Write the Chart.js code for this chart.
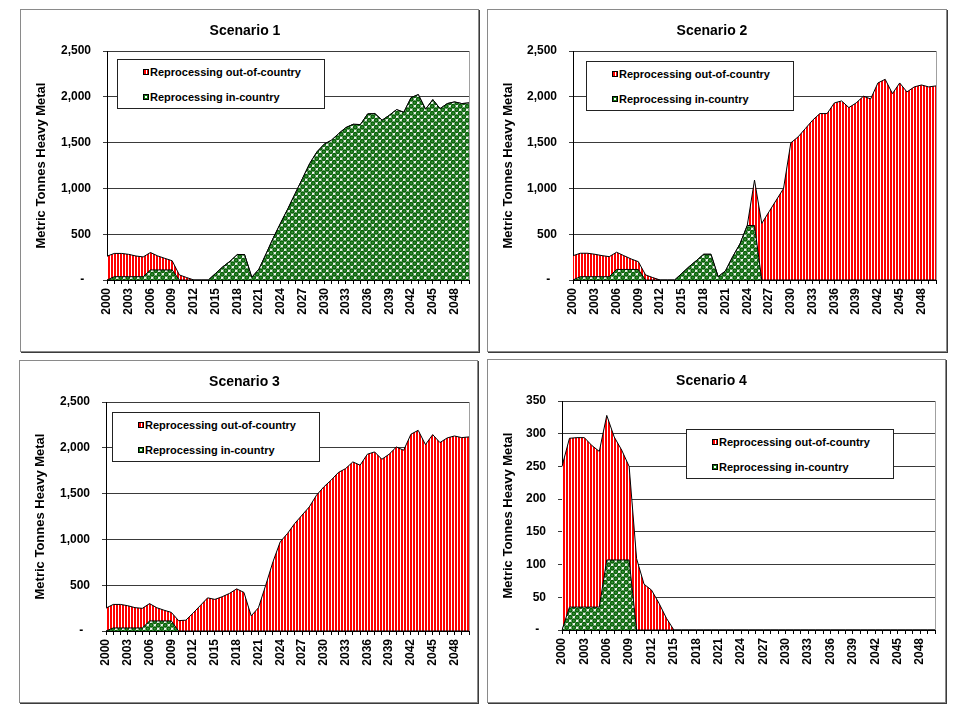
<!DOCTYPE html>
<html>
<head>
<meta charset="utf-8">
<script src="https://cdn.jsdelivr.net/npm/chart.js@4.4.1/dist/chart.umd.min.js"></script>
<style>
  body { margin: 0; background: #fff; width: 975px; height: 717px; position: relative; overflow: hidden;
         font-family: Arial, "Liberation Sans", sans-serif; }
  .panel { position: absolute; box-sizing: border-box; border: 1px solid #8a8a8a; box-shadow: 1px 1px 0 #3c3c3c; background: #fff; }
  .panel canvas { position: absolute; left: 0; top: 0; }
  .legend { position: absolute; width: 208px; height: 50px; box-sizing: border-box; border: 1px solid #222;
            background: #fff; font-weight: bold; font-size: 11px; color: #000; }
  .legend .row { position: absolute; height: 14px; line-height: 14px; white-space: nowrap; }
  .sw { display: inline-block; width: 4px; height: 4px; border: 1px solid #000; vertical-align: 1px; margin-right: 1px; }
  .sw.out { background: repeating-linear-gradient(90deg, #f00 0 2px, #fff 2px 3px); }
  .sw.in { background: radial-gradient(circle, #fff 0 1px, #127812 1.5px); }
</style>
</head>
<body>
<div class="panel" id="p1" style="left:20px;top:9px;width:459px;height:343px"><canvas id="c1" width="457" height="341"></canvas></div>
<div class="panel" id="p2" style="left:487px;top:9px;width:460px;height:343px"><canvas id="c2" width="458" height="341"></canvas></div>
<div class="panel" id="p3" style="left:19px;top:360px;width:459px;height:343px"><canvas id="c3" width="457" height="341"></canvas></div>
<div class="panel" id="p4" style="left:487px;top:359px;width:459px;height:344px"><canvas id="c4" width="457" height="342"></canvas></div>
<script>
// categories
const years = [2000, 2001, 2002, 2003, 2004, 2005, 2006, 2007, 2008, 2009,
  2010, 2011, 2012, 2013, 2014, 2015, 2016, 2017, 2018, 2019,
  2020, 2021, 2022, 2023, 2024, 2025, 2026, 2027, 2028, 2029,
  2030, 2031, 2032, 2033, 2034, 2035, 2036, 2037, 2038, 2039,
  2040, 2041, 2042, 2043, 2044, 2045, 2046, 2047, 2048, 2049, 2050];
// only every third year gets a label
const shownYears = [2000, 2003, 2006, 2009, 2012, 2015, 2018, 2021, 2024, 2027,
  2030, 2033, 2036, 2039, 2042, 2045, 2048];

const seriesNames = ["Reprocessing out-of-country", "Reprocessing in-country"];
const axisTitle = "Metric Tonnes Heavy Metal";

// Scenario 1
const s1In = [0, 36, 36, 36, 36, 36, 110, 110, 110, 110,
  0, 0, 0, 0, 0, 72, 144, 205, 278, 278,
  29, 120, 290, 465, 625, 781, 945, 1108, 1272, 1399,
  1483, 1526, 1599, 1664, 1700, 1697, 1813, 1817, 1744, 1799,
  1860, 1831, 1991, 2024, 1864, 1969, 1871, 1926, 1944, 1926, 1933];
const s1Out = [260, 254, 254, 244, 226, 216, 190, 153, 126, 100,
  55, 27, 0, 0, 0, 0, 0, 0, 0, 0,
  0, 0, 0, 0, 0, 0, 0, 0, 0, 0,
  0, 0, 0, 0, 0, 0, 0, 0, 0, 0,
  0, 0, 0, 0, 0, 0, 0, 0, 0, 0, 0];

// Scenario 2
const s2In = [0, 36, 36, 36, 36, 36, 115, 115, 115, 115,
  0, 0, 0, 0, 0, 73, 146, 212, 281, 281,
  36, 99, 255, 394, 595, 595, 0, 0, 0, 0,
  0, 0, 0, 0, 0, 0, 0, 0, 0, 0,
  0, 0, 0, 0, 0, 0, 0, 0, 0, 0, 0];
const s2Out = [265, 256, 256, 245, 230, 219, 188, 151, 115, 85,
  55, 26, 0, 0, 0, 0, 0, 0, 0, 0,
  0, 0, 0, 0, 0, 495, 618, 745, 872, 999,
  1497, 1562, 1653, 1744, 1817, 1817, 1933, 1955, 1882, 1933,
  2006, 1977, 2151, 2191, 2035, 2151, 2053, 2108, 2129, 2108, 2119];

// Scenario 3
const s3In = [0, 33, 33, 33, 33, 33, 110, 110, 110, 110,
  0, 0, 0, 0, 0, 0, 0, 0, 0, 0,
  0, 0, 0, 0, 0, 0, 0, 0, 0, 0,
  0, 0, 0, 0, 0, 0, 0, 0, 0, 0,
  0, 0, 0, 0, 0, 0, 0, 0, 0, 0, 0];
const s3Out = [250, 257, 257, 243, 222, 214, 189, 144, 117, 93,
  113, 118, 196, 279, 362, 345, 374, 410, 460, 421,
  165, 254, 500, 756, 974, 1065, 1174, 1265, 1355, 1483,
  1573, 1646, 1730, 1773, 1846, 1810, 1930, 1955, 1875, 1930,
  2009, 1973, 2148, 2191, 2035, 2144, 2057, 2108, 2129, 2111, 2119];

// Scenario 4
const s4In = [0, 35, 35, 35, 35, 35, 107, 107, 107, 107,
  0, 0, 0, 0, 0, 0, 0, 0, 0, 0,
  0, 0, 0, 0, 0, 0, 0, 0, 0, 0,
  0, 0, 0, 0, 0, 0, 0, 0, 0, 0,
  0, 0, 0, 0, 0, 0, 0, 0, 0, 0, 0];
const s4Out = [250, 258, 259, 259, 247, 238, 221, 188, 168, 143,
  109, 70, 61, 41, 18, 0, 0, 0, 0, 0,
  0, 0, 0, 0, 0, 0, 0, 0, 0, 0,
  0, 0, 0, 0, 0, 0, 0, 0, 0, 0,
  0, 0, 0, 0, 0, 0, 0, 0, 0, 0, 0];

Chart.defaults.font.family = 'Arial, "Liberation Sans", sans-serif';
Chart.defaults.color = "#000";

// red with white vertical stripes
function stripePattern() {
  const c = document.createElement("canvas");
  c.width = 3; c.height = 4;
  const g = c.getContext("2d");
  g.fillStyle = "#fff"; g.fillRect(0, 0, 3, 4);
  g.fillStyle = "#ff0000"; g.fillRect(0, 0, 2, 4);
  return g.createPattern(c, "repeat");
}

// green "bubbles" fill
function bubblePattern() {
  const c = document.createElement("canvas");
  c.width = 7; c.height = 7;
  const g = c.getContext("2d");
  g.fillStyle = "#fff"; g.fillRect(0, 0, 7, 7);
  const centers = [[1.75, 1.75], [5.25, 5.25]];
  for (const [cx, cy] of centers) {
    for (const dx of [-7, 0, 7]) {
      for (const dy of [-7, 0, 7]) {
        g.beginPath(); g.arc(cx + dx, cy + dy, 2.4, 0, Math.PI * 2);
        g.fillStyle = "#065e06"; g.fill();
        g.beginPath(); g.arc(cx + dx, cy + dy, 1.1, 0, Math.PI * 2);
        g.fillStyle = "#3a963a"; g.fill();
      }
    }
  }
  return g.createPattern(c, "repeat");
}

const redFill = stripePattern();
const greenFill = bubblePattern();

// gray frame on the right side of the plot area
const plotFrame = {
  id: "plotFrame",
  afterDatasetsDraw(chart) {
    const a = chart.chartArea, ctx = chart.ctx;
    ctx.save();
    ctx.strokeStyle = "#a0a0a0";
    ctx.lineWidth = 1;
    ctx.beginPath();
    ctx.moveTo(Math.round(a.right) + 0.5, a.top);
    ctx.lineTo(Math.round(a.right) + 0.5, a.bottom);
    ctx.stroke();
    ctx.restore();
  }
};

function makeChart(canvasId, title, inData, outData, lay) {
  return new Chart(document.getElementById(canvasId), {
    type: "line",
    data: {
      labels: years,
      datasets: [
        { label: seriesNames[1], data: inData, backgroundColor: greenFill, borderColor: "#000",
          borderWidth: 1, fill: "origin", pointRadius: 0, tension: 0 },
        { label: seriesNames[0], data: outData, backgroundColor: redFill, borderColor: "#000",
          borderWidth: 1, fill: "-1", pointRadius: 0, tension: 0 }
      ]
    },
    options: {
      responsive: false,
      animation: false,
      layout: { padding: { left: 0, right: lay.right, top: 0, bottom: 0 } },
      plugins: {
        legend: { display: false },
        tooltip: { enabled: false },
        title: { display: true, text: title, color: "#000",
          font: { size: 14, weight: "bold" }, padding: { top: 13, bottom: 11.2 } }
      },
      scales: {
        x: {
          type: "category",
          offset: false,
          grid: { drawOnChartArea: false, drawTicks: true, tickLength: 4, color: "#000" },
          border: { color: "#000" },
          ticks: {
            autoSkip: false, minRotation: 90, maxRotation: 90, padding: 4,
            font: { size: 12, weight: "bold" }, color: "#000",
            callback: (v, i) => shownYears.includes(years[i]) ? String(years[i]) : ""
          },
          afterFit: (s) => { s.height = lay.bottom; s.paddingLeft = 0; s.paddingRight = 0; }
        },
        y: {
          stacked: true,
          min: 0, max: lay.max,
          ticks: { stepSize: lay.step, padding: 12, color: "#000", font: { size: 12, weight: "bold" },
            callback: (v) => v === 0 ? "-  " : v.toLocaleString("en-US") },
          grid: { color: "#3a3a3a", tickLength: 4 },
          border: { color: "#000" },
          title: { display: true, text: axisTitle, color: "#000",
            font: { size: 13, weight: "bold" }, padding: { top: 13, bottom: 0 } },
          afterFit: (s) => { s.width = lay.left; }
        }
      }
    },
    plugins: [plotFrame]
  });
}

function addLegend(panelId, left, top) {
  const box = document.createElement("div");
  box.className = "legend";
  box.style.left = left + "px";
  box.style.top = top + "px";
  box.innerHTML =
    '<div class="row" style="left:25px;top:5px"><span class="sw out"></span>' + seriesNames[0] + "</div>" +
    '<div class="row" style="left:25px;top:30px"><span class="sw in"></span>' + seriesNames[1] + "</div>";
  document.getElementById(panelId).appendChild(box);
}

makeChart("c1", "Scenario 1", s1In, s1Out, { left: 86, right: 9, bottom: 71, max: 2500, step: 500 });
makeChart("c2", "Scenario 2", s2In, s2Out, { left: 85, right: 10, bottom: 71, max: 2500, step: 500 });
makeChart("c3", "Scenario 3", s3In, s3Out, { left: 86, right: 8, bottom: 71, max: 2500, step: 500 });
makeChart("c4", "Scenario 4", s4In, s4Out, { left: 74, right: 10, bottom: 72, max: 350, step: 50 });

addLegend("p1", 96, 49);
addLegend("p2", 98, 51);
addLegend("p3", 92, 51);
addLegend("p4", 198, 69);
</script>
</body>
</html>
